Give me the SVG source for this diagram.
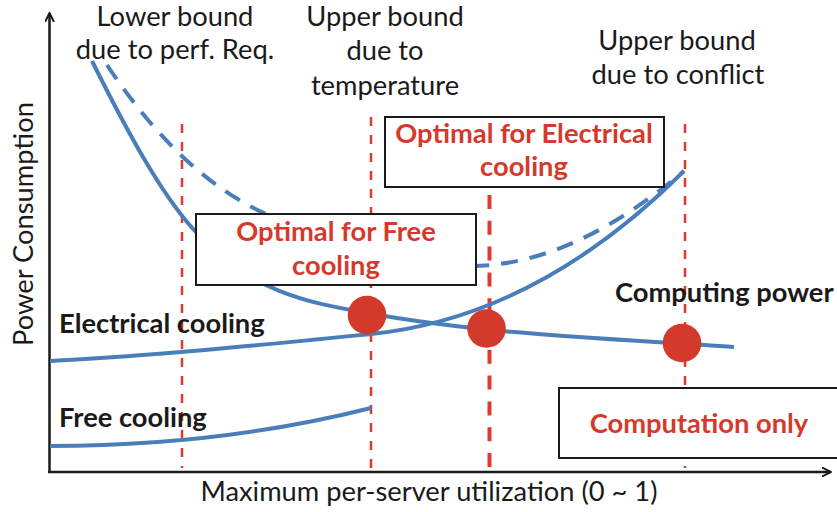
<svg xmlns="http://www.w3.org/2000/svg" width="837" height="512" viewBox="0 0 837 512">
  <style>
    text { font-family: Lato, "Liberation Sans", sans-serif; font-size: 27.3px; }
    .lbl { fill: #1a1a1a; }
    .mid { text-anchor: middle; }
    .bold { font-weight: bold; fill: #1a1a1a; }
    .opt { font-weight: bold; fill: #d6392c; text-anchor: middle; }
    .axis { stroke: #1a1a1a; stroke-width: 2.5; fill: none; }
    .bound { stroke: #e0392f; stroke-width: 2.5; stroke-dasharray: 9 9; fill: none; }
    .bound.main { stroke-width: 4; stroke-dasharray: 14 11.8; }
    .curve { stroke: #4a7ebb; stroke-width: 4; fill: none; }
    .curve.total { stroke-dasharray: 17 12; }
    .box rect { fill: #ffffff; stroke: #1a1a1a; stroke-width: 2; }
    .dot { fill: #d33a2c; }
  </style>
  <defs>
    <marker id="arrow" viewBox="0 0 10 10" refX="9" refY="5" markerWidth="10" markerHeight="10" markerUnits="userSpaceOnUse" orient="auto">
      <path d="M0,0.5 L9,5 L0,9.5" fill="none" stroke="#1a1a1a" stroke-width="2"/>
    </marker>
  </defs>

  <!-- axes -->
  <g id="axes">
    <path class="axis" d="M49.5,473 V13" marker-end="url(#arrow)"/>
    <path class="axis" d="M48,472 H831" marker-end="url(#arrow)"/>
    <text class="lbl mid" x="429" y="501">Maximum per-server utilization (0 ~ 1)</text>
    <text class="lbl mid" transform="translate(32.5,224) rotate(-90)">Power Consumption</text>
  </g>

  <!-- utilization bounds -->
  <g id="bounds">
    <path class="bound" d="M182,124 V468"/>
    <path class="bound" d="M371,117 V472"/>
    <path class="bound main" d="M489.5,195 V468"/>
    <path class="bound" d="M685,124 V468"/>
  </g>

  <!-- power curves -->
  <g id="curves">
    <path id="computing-power" class="curve" d="M92,61 C126,129 160,192.6 194,230 C251.7,293.4 309.3,302.6 367,313 C489,335 612,338.5 734,347"/>
    <path id="electrical-cooling" class="curve" d="M50,361 C157,355.6 264,344.7 371,334 C475.3,323.6 579.7,275 684,171"/>
    <path id="total-electrical" class="curve total" d="M107,65 C160,144.5 213,190 266,214 C334,244.6 402,266 470,266 C541.3,266 612.7,231 684,171"/>
    <path id="free-cooling" class="curve" d="M50,446 C150,446 260,436 371,408"/>
  </g>

  <!-- region boxes -->
  <g id="box-electrical" class="box">
    <rect x="385" y="117" width="279" height="70"/>
    <text class="opt" x="524" y="143">Optimal for Electrical</text>
    <text class="opt" x="524" y="176">cooling</text>
  </g>
  <g id="box-free" class="box">
    <rect x="196" y="214" width="280" height="71"/>
    <text class="opt" x="336" y="241">Optimal for Free</text>
    <text class="opt" x="336" y="275">cooling</text>
  </g>
  <g id="box-computation" class="box">
    <rect x="559" y="388" width="290" height="70"/>
    <text class="opt" x="699" y="433">Computation only</text>
  </g>

  <!-- operating points -->
  <g id="points">
    <circle class="dot" cx="367" cy="315" r="19.3"/>
    <circle class="dot" cx="486.5" cy="328.5" r="19.3"/>
    <circle class="dot" cx="682" cy="343" r="19.3"/>
  </g>

  <!-- bound captions -->
  <g id="label-lower">
    <text class="lbl mid" x="175" y="26">Lower bound</text>
    <text class="lbl mid" x="175" y="59">due to perf. Req.</text>
  </g>
  <g id="label-temperature">
    <text class="lbl mid" x="385" y="26">Upper bound</text>
    <text class="lbl mid" x="385" y="60">due to</text>
    <text class="lbl mid" x="385" y="94.5">temperature</text>
  </g>
  <g id="label-conflict">
    <text class="lbl mid" x="677" y="50">Upper bound</text>
    <text class="lbl mid" x="678" y="83.5">due to conflict</text>
  </g>

  <!-- curve names -->
  <g id="label-curves">
    <text class="bold" x="59" y="333">Electrical cooling</text>
    <text class="bold" x="59" y="427">Free cooling</text>
    <text class="bold" x="615" y="302">Computing power</text>
  </g>
</svg>
